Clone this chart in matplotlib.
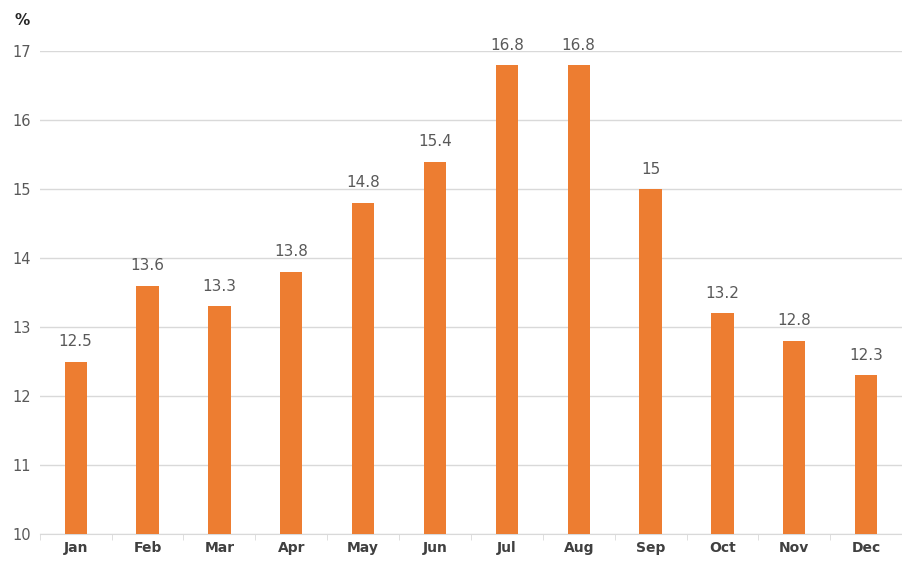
import matplotlib.pyplot as plt
import numpy as np

months = ['Jan', 'Feb', 'Mar', 'Apr', 'May', 'Jun', 'Jul', 'Aug', 'Sep', 'Oct', 'Nov', 'Dec']
values = [12.5, 13.6, 13.3, 13.8, 14.8, 15.4, 16.8, 16.8, 15.0, 13.2, 12.8, 12.3]
value_text = ['12.5', '13.6', '13.3', '13.8', '14.8', '15.4', '16.8', '16.8', '15', '13.2', '12.8', '12.3']
y_ticks = [10, 11, 12, 13, 14, 15, 16, 17]

bar_color = '#ED7D31'
grid_color = '#D9D9D9'
text_gray = '#595959'

fig = plt.figure(figsize=(9.03, 5.62), dpi=100)
ax = fig.add_axes([0.044, 0.0498, 0.955, 0.859])

x = np.arange(len(months))
bars = ax.bar(x, values, width=0.31, color=bar_color, zorder=3)
ax.bar_label(bars, labels=value_text, padding=9, fontsize=11,
             color=text_gray, clip_on=False)

ax.set_xlim(-0.5, len(months) - 0.5)
ax.set_ylim(10, 17)
ax.set_yticks(y_ticks)
ax.tick_params(axis='y', length=0, labelsize=10.5, labelcolor=text_gray, pad=13)
ax.yaxis.grid(True, color=grid_color, linewidth=1)
ax.set_axisbelow(True)
for lbl in ax.get_yticklabels():
    lbl.set_horizontalalignment('center')

ax.set_xticks(x)
ax.set_xticklabels(months, fontsize=10, fontweight='bold', color='#404040')
ax.tick_params(axis='x', length=0, pad=5)
ax.set_xticks(np.arange(-0.5, len(months), 1), minor=True)
ax.tick_params(axis='x', which='minor', length=4, color=grid_color)

for side in ['top', 'right', 'left']:
    ax.spines[side].set_visible(False)
ax.spines['bottom'].set_color(grid_color)

fig.text(0.016, 0.955, '%', fontsize=11, fontweight='bold', color='#262626')

fig.savefig('out.png', dpi=100)
